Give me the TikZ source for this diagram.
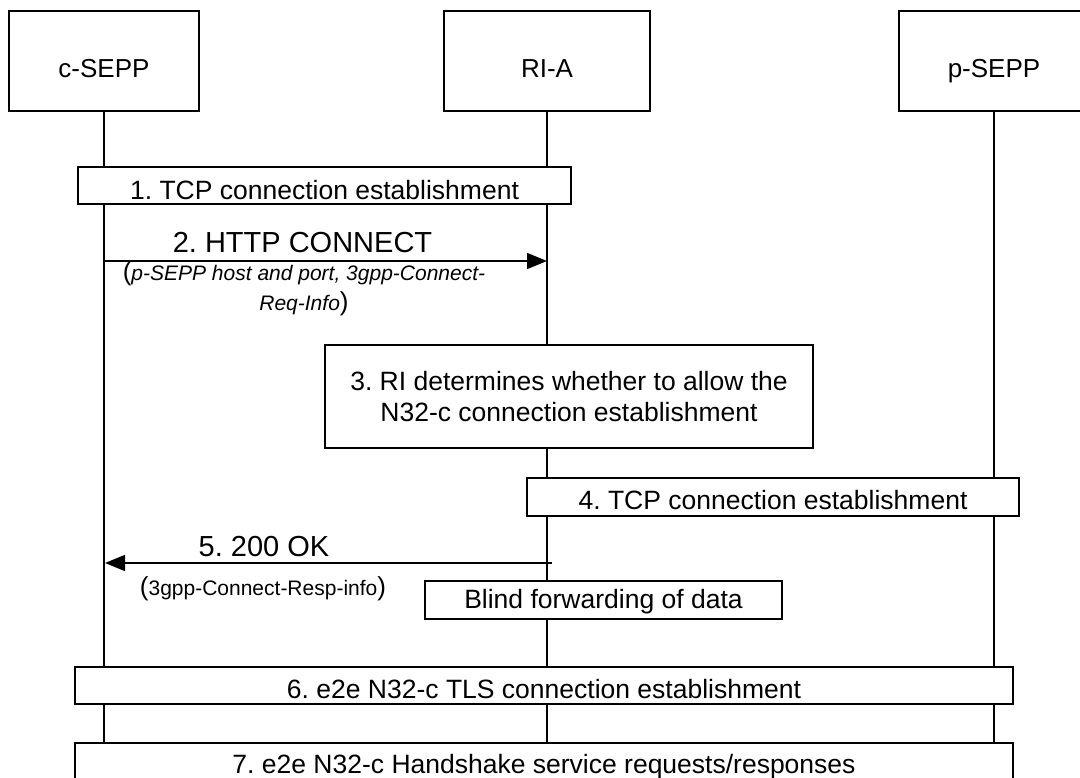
\documentclass[tikz,border=0pt]{standalone}
\usepackage{fontspec}
\setmainfont{Liberation Sans}
\usetikzlibrary{arrows.meta}
\begin{document}
\frenchspacing
\begin{tikzpicture}[x=1pt,y=-1pt,
  every node/.style={inner sep=0pt},
  head/.style={draw, fill=white, line width=1.3pt, minimum width=190pt, minimum height=100pt, text height=34pt, text depth=0pt, font=\fontsize{26}{30}\selectfont},
  box/.style={draw, fill=white, line width=1.5pt, align=center, font=\fontsize{26.5}{31}\selectfont},
  onebox/.style={box, text height=25pt, text depth=0pt},
  life/.style={line width=1.3pt},
  msg/.style={line width=1.5pt, -{Triangle[length=20pt,width=16pt]}},
  biglbl/.style={anchor=base, font=\fontsize{29}{33}\selectfont},
  smalllbl/.style={anchor=base, font=\fontsize{21}{25}\selectfont}]
\clip (0,0) rectangle (1080,778);
\fill[white] (0,0) rectangle (1080,778);
% participants
\node[head] (cS) at (104,61) {c-SEPP};
\node[head, minimum width=206pt] (riA) at (547,61) {RI-A};
\node[head] (pS) at (994,61) {p-SEPP};
\coordinate (bot) at (0,800);
\draw[life] (cS.south) -- (cS.south |- bot);
\draw[life] (riA.south) -- (riA.south |- bot);
\draw[life] (pS.south) -- (pS.south |- bot);
% 1
\node[onebox, text height=28pt, minimum width=493pt, minimum height=37pt] (b1) at (324.5,185.5) {1. TCP connection establishment};
% 2
\coordinate (m2s) at (105,261);
\coordinate (m2e) at (547,261);
\draw[msg] (m2s) -- (m2e);
\node[biglbl] (l2) at (302.5,253) {2. HTTP CONNECT};
\node[smalllbl] (l2a) at (304,280.5) {{\fontsize{26}{30}\selectfont(}\textit{p-SEPP host and port, 3gpp-Connect-}};
\node[smalllbl] (l2b) at (304,311) {\textit{Req-Info}{\fontsize{26}{30}\selectfont)}};
% 3
\node[box, minimum width=488pt, minimum height=103pt] (b3) at (569,396.5) {3. RI determines whether to allow the\\N32-c connection establishment};
% 4
\node[onebox, minimum width=492pt, minimum height=38pt] (b4) at (773,497) {4. TCP connection establishment};
% 5
\coordinate (m5s) at (552,563);
\coordinate (m5e) at (105,563);
\draw[msg] (m5s) -- (m5e);
\node[biglbl] (l5) at (264,556) {5. 200 OK};
\node[smalllbl] (l5a) at (263,595) {{\fontsize{26}{30}\selectfont(}3gpp-Connect-Resp-info{\fontsize{26}{30}\selectfont)}};
\node[onebox, text height=17pt, minimum width=357pt, minimum height=38pt] (bf) at (603.5,600) {Blind forwarding of data};
% 6, 7
\node[onebox, minimum width=938pt, minimum height=37pt] (b6) at (544,685.5) {6. e2e N32-c TLS connection establishment};
\node[onebox, text height=20pt, minimum width=938pt, minimum height=40pt] (b7) at (544,763) {7. e2e N32-c Handshake service requests/responses};
\end{tikzpicture}
\end{document}
